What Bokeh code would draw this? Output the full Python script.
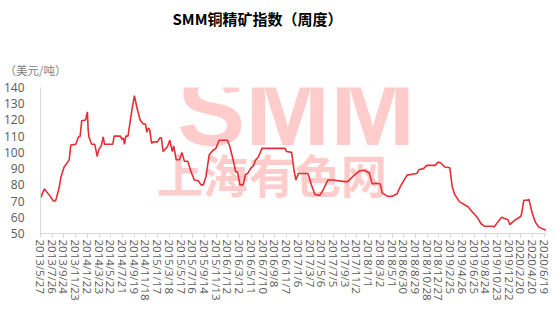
from datetime import date
from bokeh.plotting import figure
from bokeh.models import FixedTicker, Range1d, Label, Title
from bokeh.embed import file_html
from bokeh.resources import INLINE

# ---- data ----
dates = [
    "2013-05-27", "2013-06-16", "2013-07-12", "2013-08-01", "2013-08-12", "2013-08-18",
    "2013-08-31", "2013-09-09", "2013-09-25", "2013-10-13", "2013-10-21", "2013-10-29",
    "2013-11-24", "2013-12-07", "2013-12-16", "2013-12-24", "2014-01-13", "2014-01-22",
    "2014-01-26", "2014-01-30", "2014-02-13", "2014-03-01", "2014-03-13", "2014-03-22",
    "2014-04-03", "2014-04-13", "2014-04-20", "2014-06-01", "2014-06-08", "2014-07-10",
    "2014-07-18", "2014-07-25", "2014-07-31", "2014-08-07", "2014-08-18", "2014-09-07",
    "2014-09-20", "2014-10-02", "2014-10-19", "2014-11-04", "2014-11-16", "2014-11-22",
    "2014-11-30", "2014-12-07", "2014-12-17", "2014-12-25", "2015-01-16", "2015-01-28",
    "2015-02-05", "2015-02-14", "2015-03-08", "2015-03-20", "2015-04-02", "2015-04-09",
    "2015-04-22", "2015-05-09", "2015-05-21", "2015-06-03", "2015-06-20", "2015-07-07",
    "2015-07-24", "2015-08-13", "2015-08-27", "2015-09-08", "2015-09-21", "2015-10-08",
    "2015-10-25", "2015-11-11", "2015-11-28", "2016-01-09", "2016-01-22", "2016-02-12",
    "2016-02-20", "2016-03-01", "2016-03-13", "2016-03-30", "2016-04-11", "2016-04-22",
    "2016-05-06", "2016-05-23", "2016-05-31", "2016-06-17", "2016-07-04", "2016-10-30",
    "2016-11-07", "2016-12-03", "2016-12-15", "2016-12-25", "2017-01-06", "2017-02-25",
    "2017-03-14", "2017-04-01", "2017-04-26", "2017-05-12", "2017-06-07", "2017-07-02",
    "2017-08-30", "2017-09-16", "2017-10-11", "2017-11-14", "2017-12-09", "2018-01-04",
    "2018-01-12", "2018-01-20", "2018-02-06", "2018-03-02", "2018-03-12", "2018-04-06",
    "2018-05-02", "2018-05-27", "2018-06-13", "2018-07-17", "2018-08-11", "2018-09-05",
    "2018-09-17", "2018-10-09", "2018-10-26", "2018-12-07", "2018-12-24", "2019-01-06",
    "2019-01-26", "2019-02-21", "2019-03-05", "2019-03-18", "2019-04-12", "2019-05-25",
    "2019-06-19", "2019-07-14", "2019-07-31", "2019-08-17", "2019-09-28", "2019-10-06",
    "2019-10-24", "2019-11-13", "2019-12-05", "2019-12-16", "2019-12-26", "2020-01-08",
    "2020-01-24", "2020-02-19", "2020-02-23", "2020-03-06", "2020-03-20", "2020-04-01",
    "2020-04-18", "2020-05-04", "2020-05-21", "2020-06-08", "2020-06-19", "2020-06-26",
]
values = [
    72, 77.5, 73.5, 70, 70, 72.5,
    78.5, 85, 91, 94, 95.5, 104.5,
    105, 109.5, 110, 119.5, 120, 125,
    114, 109.5, 105, 105, 97.5, 102,
    104, 109.5, 105, 105, 110, 110,
    108, 109, 105, 110, 110, 126,
    135, 128, 120, 117.5, 117.5, 112.5,
    115, 114, 105.5, 106.5, 106.5, 109,
    109, 100.5, 103.5, 107.5, 100.5, 104,
    95.5, 95.5, 100, 94.5, 94.5, 88,
    83, 82.5, 80, 80, 85, 98.5,
    101, 102.5, 107.5, 107.5, 103.5, 93,
    88, 88, 80, 80, 86.5, 87,
    90, 92, 95, 97.5, 102.5, 102.5,
    100.5, 100, 89, 83, 87, 87,
    80, 74, 73.5, 76.5, 83, 83,
    82, 82, 85, 88.5, 89, 87.5,
    84, 80.5, 81, 80.5, 75, 73,
    73, 74.5, 79, 86, 86.5, 87,
    89.5, 90, 92, 92, 94, 93.5,
    91, 90.5, 79, 74, 69.5, 66.5,
    63, 59.5, 56, 54.5, 54.5, 54,
    57, 60, 59, 58.5, 55.5, 57,
    58.5, 60.5, 62, 70.5, 70.5, 71,
    62.5, 57, 54, 53, 52.5, 52,
]

tick_labels = [
    "2013/5/27", "2013/7/26", "2013/9/24", "2013/11/23", "2014/1/22", "2014/3/23",
    "2014/5/22", "2014/7/21", "2014/9/19", "2014/11/18", "2015/1/17", "2015/3/18",
    "2015/5/17", "2015/7/16", "2015/9/14", "2015/11/13", "2016/1/12", "2016/3/12",
    "2016/5/11", "2016/7/10", "2016/9/8", "2016/11/7", "2017/1/6", "2017/3/7",
    "2017/5/6", "2017/7/5", "2017/9/3", "2017/11/2", "2018/1/1", "2018/3/2",
    "2018/5/1", "2018/6/30", "2018/8/29", "2018/10/28", "2018/12/27", "2019/2/25",
    "2019/4/26", "2019/6/25", "2019/8/24", "2019/10/23", "2019/12/22", "2020/2/20",
    "2020/4/20", "2020/6/19",
]
y_ticks = [50, 60, 70, 80, 90, 100, 110, 120, 130, 140]

title_text = "SMM铜精矿指数（周度）"
unit_text = "（美元/吨）"

# ---- conversion: days since first tick date ----
def to_date(s):
    y, m, d = s.replace("/", "-").split("-")
    return date(int(y), int(m), int(d))

origin = to_date(tick_labels[0])
xs = [(to_date(s) - origin).days for s in dates]
tick_pos = [(to_date(s) - origin).days for s in tick_labels]

FONT = "Noto Sans CJK SC"

p = figure(width=554, height=311, output_backend="svg", toolbar_location=None,
           x_range=Range1d(0, 2591), y_range=Range1d(50, 140),
           min_border_left=34, min_border_right=8, min_border_top=87,
           min_border_bottom=78, title=None)
p.outline_line_color = None
p.background_fill_color = "white"
p.border_fill_color = "white"
p.xgrid.visible = False
p.ygrid.visible = False

# watermark
p.add_layout(Label(x=700, y=126, text="SMM", text_font="Liberation Sans",
                   text_font_style="bold", text_font_size="102px",
                   text_color="#FFCCCC", text_baseline="middle", level="underlay"))
p.add_layout(Label(x=596, y=87, text="上海有色网", text_font=FONT,
                   text_font_style="bold", text_font_size="46px",
                   text_color="#FFCCCC", text_baseline="middle", level="underlay"))

p.line(xs, values, line_color="#E62E36", line_width=1.6)

# axes
xa = p.xaxis[0]
xa.ticker = FixedTicker(ticks=tick_pos, minor_ticks=[])
xa.major_label_overrides = {t: l for t, l in zip(tick_pos, tick_labels)}
xa.major_label_orientation = "vertical"
xa.major_label_text_font = "Open Sans"
xa.major_label_text_font_size = "11.5px"
xa.major_label_text_color = "#595959"
xa.axis_line_color = "#D9D9D9"
xa.major_tick_line_color = "#D9D9D9"
xa.major_tick_in = 0
xa.major_tick_out = 4
xa.minor_tick_line_color = None
xa.major_label_standoff = 2

ya = p.yaxis[0]
ya.ticker = FixedTicker(ticks=y_ticks, minor_ticks=[])
ya.major_label_text_font = "Open Sans"
ya.major_label_text_font_size = "12px"
ya.major_label_text_color = "#595959"
ya.axis_line_color = "#D9D9D9"
ya.major_tick_line_color = None
ya.minor_tick_line_color = None
ya.major_label_standoff = 10

# stacked above the frame: unit label, spacer, chart title
p.add_layout(Title(text=unit_text, align="left", offset=-36, text_font=FONT,
                   text_font_size="11.5px", text_font_style="normal",
                   text_color="#7F7F7F", standoff=19), "above")
p.add_layout(Title(text=" ", text_font_size="1px", standoff=19), "above")
p.add_layout(Title(text=title_text, align="left", offset=132, text_font=FONT,
                   text_font_size="15px", text_font_style="bold",
                   text_color="#000000", standoff=0), "above")

open("out.html", "w").write(file_html(p, INLINE))
